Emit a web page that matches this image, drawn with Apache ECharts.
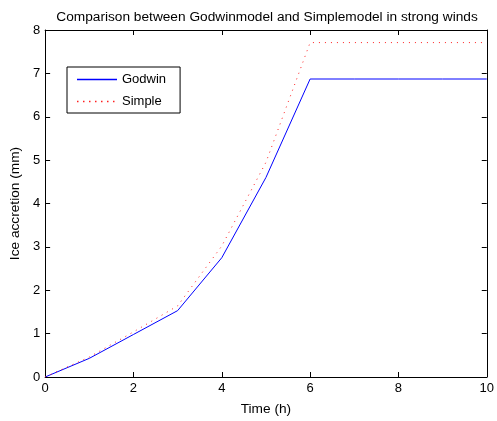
<!DOCTYPE html>
<html>
<head>
<meta charset="utf-8">
<script src="https://cdn.jsdelivr.net/npm/echarts@6/dist/echarts.min.js"></script>
<style>
html,body{margin:0;padding:0;background:#fff;}
#chart{width:497px;height:421px;}
</style>
</head>
<body>
<div id="chart"></div>
<script>
// Ice accretion over time for the two models
const timeHours = [0, 1, 2, 3, 4, 5, 6, 7, 8, 9, 10];
const godwin = [0, 0.43, 0.98, 1.53, 2.75, 4.60, 6.87, 6.87, 6.87, 6.87, 6.87];
const simple = [0, 0.46, 1.04, 1.64, 3.02, 4.95, 7.71, 7.71, 7.71, 7.71, 7.71];
const xTicks = [0, 2, 4, 6, 8, 10];
const yTicks = [0, 1, 2, 3, 4, 5, 6, 7, 8];
const seriesNames = ['Godwin', 'Simple'];

const FONT = 'Liberation Sans, Arial, sans-serif';
const BLUE = '#0000ff';
const RED = '#ff2020';
const DOTS = [1, 5];
// legend swatches: a thin solid bar and a row of small dots, both 40 units wide
const SOLID_ICON = 'path://M0,0L40,0L40,1.5L0,1.5Z';
let dotPath = '';
for (let x = 0; x <= 36; x += 6) dotPath += 'M' + x + ',0h1.5v1.5h-1.5z';
dotPath += 'M40,0L40,1.5L40,0z';
const DOT_ICON = 'path://' + dotPath;

const chart = echarts.init(document.getElementById('chart'), null, {renderer: 'canvas'});

const axisLine = {show: true, onZero: false, lineStyle: {color: '#000', width: 1}};
const axisTick = {show: true, inside: true, length: 5, lineStyle: {color: '#000', width: 1}};

chart.setOption({
  animation: false,
  backgroundColor: '#fff',
  title: {
    text: 'Comparison between Godwinmodel and Simplemodel in strong winds',
    left: 262, top: 5, textAlign: 'center',
    textStyle: {fontFamily: FONT, fontSize: 13.7, fontWeight: 'normal', color: '#000'}
  },
  grid: {left: 43, right: 7, top: 30, bottom: 40, containLabel: false},
  legend: {
    left: 67, top: 67,
    orient: 'vertical',
    backgroundColor: '#fff',
    borderColor: '#000', borderWidth: 1,
    padding: [6, 14, 5, 10],
    itemWidth: 40, itemHeight: 11, itemGap: 9,
    textStyle: {fontFamily: FONT, fontSize: 13, color: '#000'},
    data: [
      {name: seriesNames[0], icon: SOLID_ICON, itemStyle: {color: BLUE, borderWidth: 0}},
      {name: seriesNames[1], icon: DOT_ICON, itemStyle: {color: RED, borderWidth: 0}}
    ]
  },
  xAxis: [{
    type: 'value', min: 0, max: 10, interval: 2,
    name: 'Time (h)', nameLocation: 'middle', nameGap: 25,
    nameTextStyle: {fontFamily: FONT, fontSize: 13.7, color: '#000'},
    axisLine, axisTick, splitLine: {show: false},
    axisLabel: {fontFamily: FONT, fontSize: 13, color: '#000', margin: 5,
      formatter: v => xTicks.includes(v) ? String(v) : ''}
  }, {
    type: 'value', min: 0, max: 10, interval: 2, position: 'top',
    axisLine, axisTick, splitLine: {show: false}, axisLabel: {show: false}
  }],
  yAxis: [{
    type: 'value', min: 0, max: 8, interval: 1,
    name: 'Ice accretion (mm)', nameLocation: 'middle', nameGap: 16,
    nameTextStyle: {fontFamily: FONT, fontSize: 13.7, color: '#000'},
    axisLine, axisTick, splitLine: {show: false},
    axisLabel: {fontFamily: FONT, fontSize: 13, color: '#000', margin: 5,
      formatter: v => yTicks.includes(v) ? String(v) : ''}
  }, {
    type: 'value', min: 0, max: 8, interval: 1, position: 'right',
    axisLine, axisTick, splitLine: {show: false}, axisLabel: {show: false}
  }],
  series: [{
    name: seriesNames[0], type: 'line', symbol: 'none',
    data: timeHours.map((t, i) => [t, godwin[i]]),
    lineStyle: {color: BLUE, width: 1}, itemStyle: {color: BLUE}
  }, {
    name: seriesNames[1], type: 'line', symbol: 'none',
    data: timeHours.map((t, i) => [t, simple[i]]),
    lineStyle: {color: RED, width: 1, type: DOTS}, itemStyle: {color: RED}
  }]
});
</script>
</body>
</html>
